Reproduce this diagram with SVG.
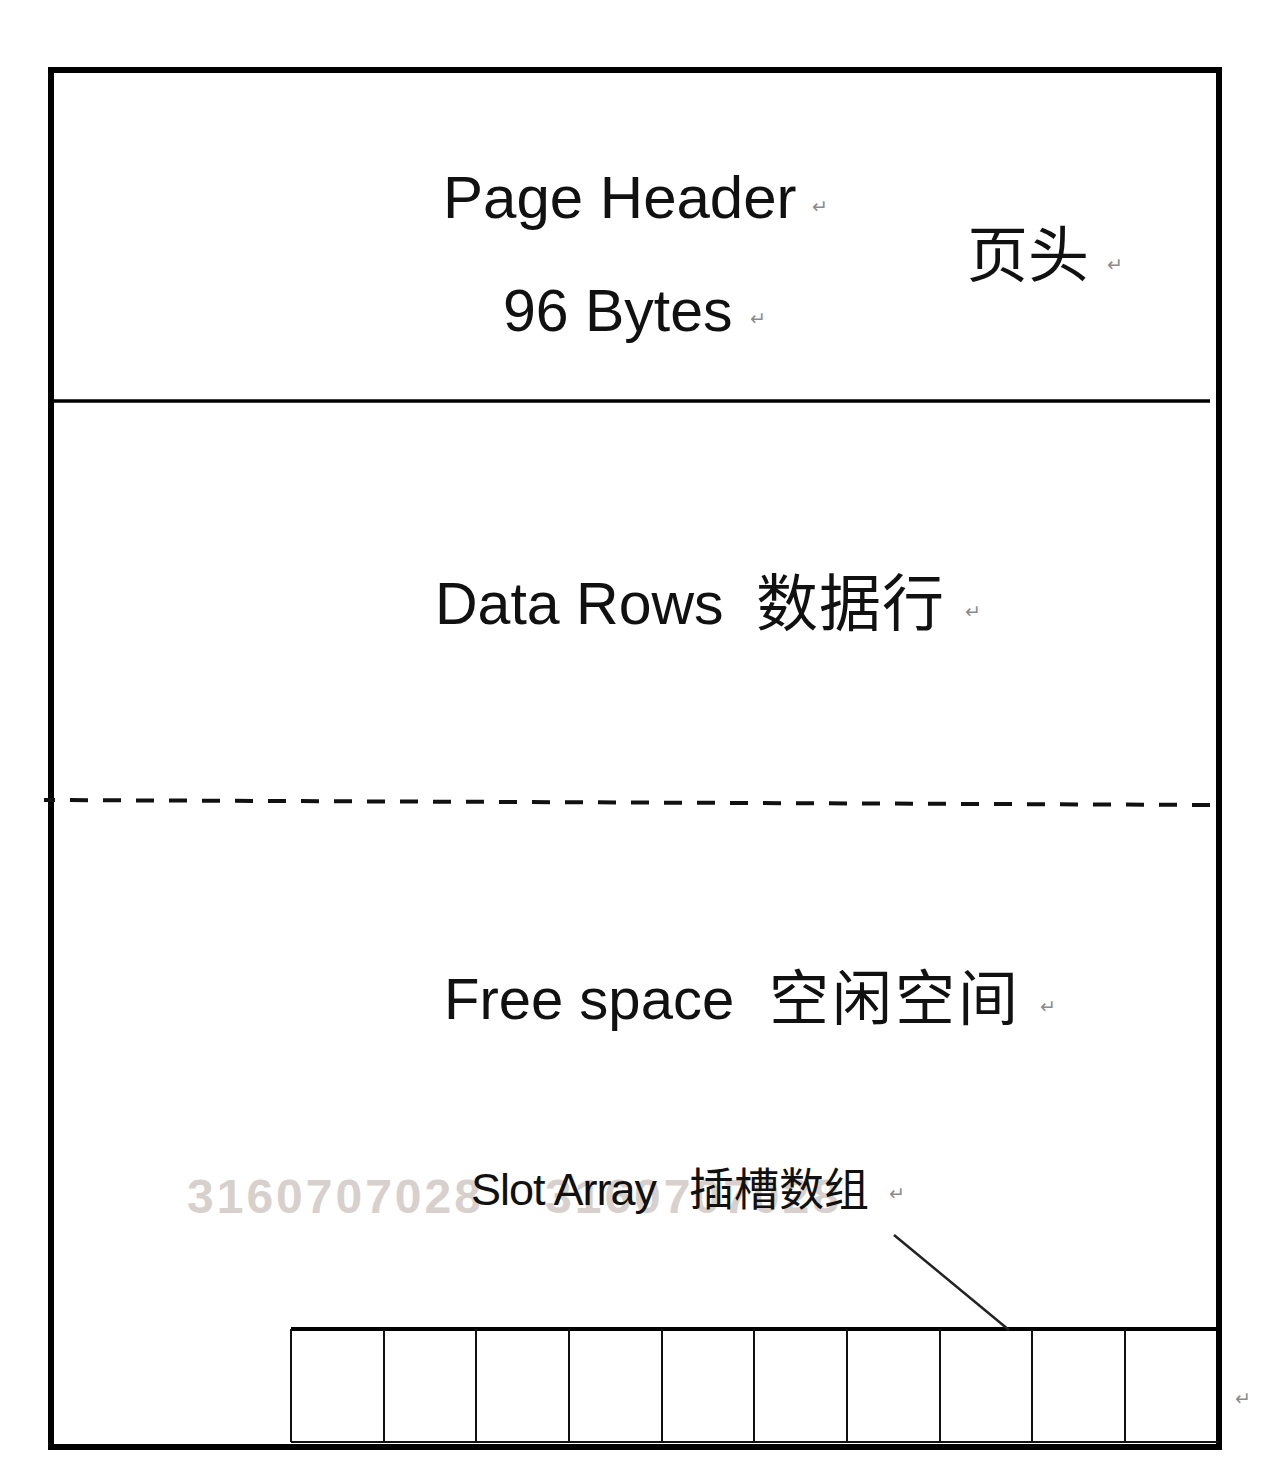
<svg xmlns="http://www.w3.org/2000/svg" width="1280" height="1476" viewBox="0 0 1280 1476">
<style>
.lat{font-family:"Liberation Sans","Noto Sans CJK SC",sans-serif;fill:#111}
.cjk{font-family:"Noto Sans CJK SC",sans-serif;fill:#111}
.ret{font-family:"DejaVu Sans",sans-serif;font-size:19px;fill:#8a8a8a}
.wm{font-family:"Liberation Sans",sans-serif;font-weight:bold;font-size:48px;letter-spacing:3px;fill:#d8d0cc}
.cell{fill:none;stroke:#111;stroke-width:2}
</style>
<rect x="0" y="0" width="1280" height="1476" fill="#fff"/>
<g id="page">
<rect x="51" y="70" width="1168" height="1377" fill="#fff" stroke="#000" stroke-width="6"/>
</g>
<g id="dividers">
<line x1="51" y1="401" x2="1210" y2="401" stroke="#000" stroke-width="3.5"/>
<line x1="44" y1="800" x2="1218" y2="805" stroke="#111" stroke-width="4" stroke-dasharray="18 15" stroke-dashoffset="-26"/>
</g>
<g id="page-header">
<text class="lat" x="443" y="218" font-size="60">Page Header</text>
<text class="ret" x="812" y="213">↵</text>
<text class="lat" x="503" y="331" font-size="59">96 Bytes</text>
<text class="ret" x="750" y="325">↵</text>
<text class="cjk" x="967" y="277" font-size="61">页头</text>
<text class="ret" x="1107" y="271">↵</text>
</g>
<g id="data-rows">
<text class="lat" x="435" y="624" font-size="59">Data Rows</text>
<text class="cjk" x="756" y="626" font-size="62" letter-spacing="1">数据行</text>
<text class="ret" x="965" y="618">↵</text>
</g>
<g id="free-space">
<text class="lat" x="444" y="1019" font-size="58">Free space</text>
<text class="cjk" x="769" y="1020" font-size="60" letter-spacing="3">空闲空间</text>
<text class="ret" x="1040" y="1013">↵</text>
</g>
<g id="watermark">
<text class="wm" x="187" y="1213">3160707028</text>
<text class="wm" x="545" y="1213">3160707028</text>
</g>
<g id="slot-array-label">
<text class="lat" x="471" y="1205" font-size="45" letter-spacing="-1">Slot Array</text>
<text class="cjk" x="689" y="1206" font-size="45">插槽数组</text>
<text class="ret" x="889" y="1200">↵</text>
</g>
<g id="slot-array">
<line x1="291" y1="1329" x2="1219" y2="1329" stroke="#000" stroke-width="4"/>
<line x1="291" y1="1442" x2="1219" y2="1442" stroke="#111" stroke-width="2"/>
<line x1="291" y1="1329" x2="291" y2="1442" class="cell"/>
<line x1="384" y1="1329" x2="384" y2="1442" class="cell"/>
<line x1="476" y1="1329" x2="476" y2="1442" class="cell"/>
<line x1="569" y1="1329" x2="569" y2="1442" class="cell"/>
<line x1="662" y1="1329" x2="662" y2="1442" class="cell"/>
<line x1="754" y1="1329" x2="754" y2="1442" class="cell"/>
<line x1="847" y1="1329" x2="847" y2="1442" class="cell"/>
<line x1="940" y1="1329" x2="940" y2="1442" class="cell"/>
<line x1="1032" y1="1329" x2="1032" y2="1442" class="cell"/>
<line x1="1125" y1="1329" x2="1125" y2="1442" class="cell"/>
</g>
<g id="connectors">
<line x1="894" y1="1235" x2="1009" y2="1330" stroke="#222" stroke-width="2.5"/>
</g>
<text class="ret" x="1235" y="1405">↵</text>
</svg>
